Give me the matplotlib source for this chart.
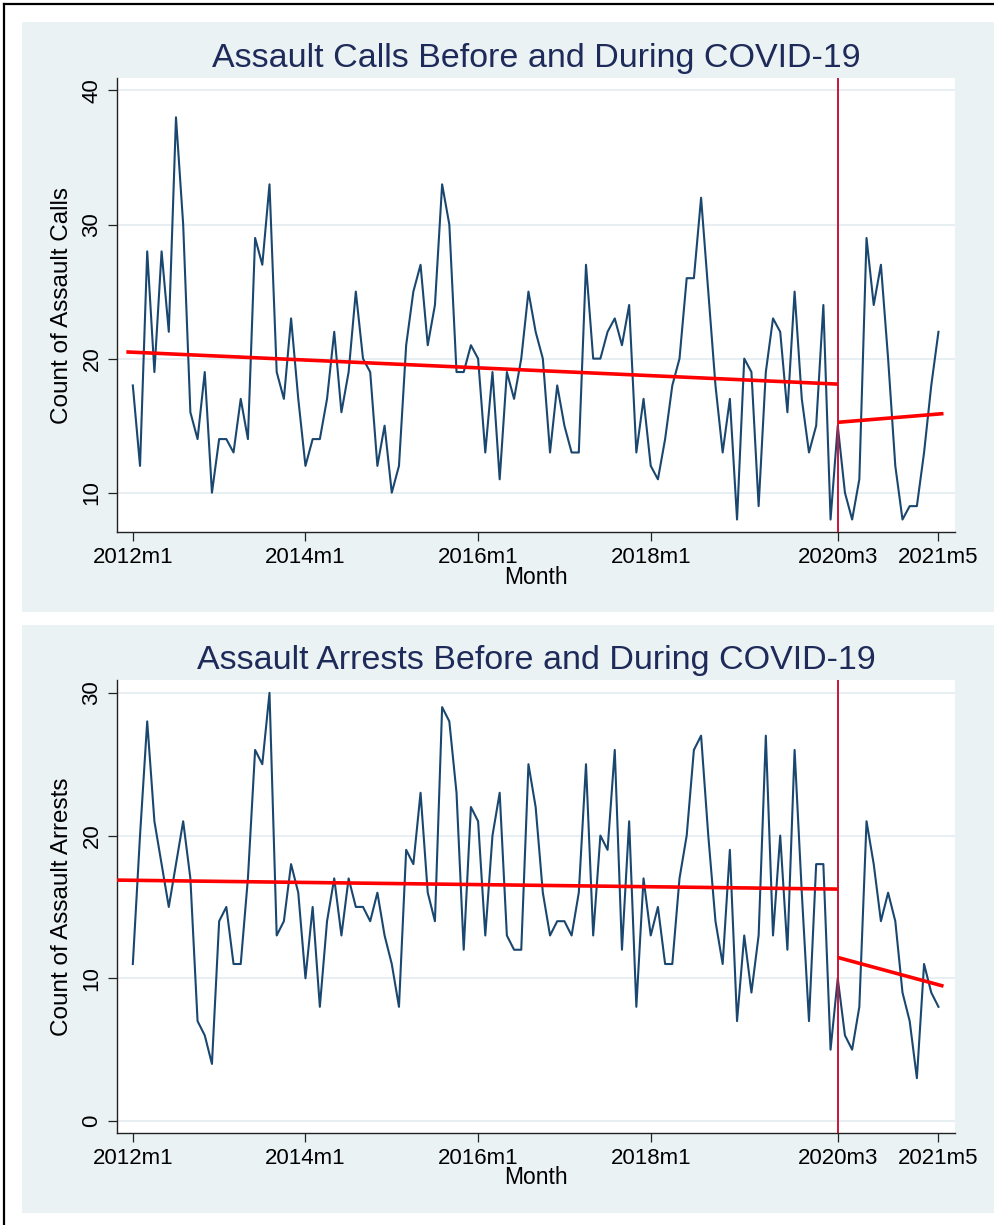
import matplotlib
matplotlib.use("Agg")
import matplotlib.pyplot as plt
from matplotlib.patches import Rectangle
from matplotlib.lines import Line2D

plt.rcParams['font.family'] = ['Liberation Sans', 'DejaVu Sans']

# ---------------- data ----------------
month_index = list(range(113))  # 2012m1 .. 2021m5
tick_positions = [0, 24, 48, 72, 98, 112]
tick_labels = ["2012m1", "2014m1", "2016m1", "2018m1", "2020m3", "2021m5"]
covid_start = 98  # 2020m3

calls = [18, 12, 28, 19, 28, 22, 38, 30, 16, 14, 19, 10, 14, 14, 13, 17, 14, 29, 27, 33, 19, 17, 23, 17, 12,
         14, 14, 17, 22, 16, 19, 25, 20, 19, 12, 15, 10, 12, 21, 25, 27, 21, 24, 33, 30, 19, 19, 21, 20, 13, 19, 11, 19, 17,
         20, 25, 22, 20, 13, 18, 15, 13, 13, 27, 20, 20, 22, 23, 21, 24, 13, 17, 12, 11, 14, 18, 20, 26, 26, 32, 25, 18, 13, 17,
         8, 20, 19, 9, 19, 23, 22, 16, 25, 17, 13, 15, 24, 8, 15, 10, 8, 11, 29, 24, 27, 20, 12, 8, 9, 9, 13, 18, 22]

arrests = [11, 20, 28, 21, 18, 15, 18, 21, 17, 7, 6, 4, 14, 15, 11, 11, 17, 26, 25, 30, 13, 14, 18, 16, 10,
           15, 8, 14, 17, 13, 17, 15, 15, 14, 16, 13, 11, 8, 19, 18, 23, 16, 14, 29, 28, 23, 12, 22, 21, 13, 20, 23, 13, 12, 12,
           25, 22, 16, 13, 14, 14, 13, 16, 25, 13, 20, 19, 26, 12, 21, 8, 17, 13, 15, 11, 11, 17, 20, 26, 27, 20, 14, 11, 19,
           7, 13, 9, 13, 27, 13, 20, 12, 26, 16, 7, 18, 18, 5, 10, 6, 5, 8, 21, 18, 14, 16, 14, 9, 7, 3, 11, 9, 8]

# linear fit lines: (x_start, y_start, x_end, y_end)
calls_pre_fit = (-0.9, 20.5, 98, 18.1)
calls_post_fit = (98, 15.25, 112.7, 15.9)
arrests_pre_fit = (-2.2, 16.88, 98, 16.25)
arrests_post_fit = (98, 11.46, 112.7, 9.45)

calls_yticks = [10, 20, 30, 40]
arrests_yticks = [0, 10, 20, 30]

# ---------------- style ----------------
W, H = 995, 1225
fig = plt.figure(figsize=(W / 100, H / 100), dpi=100)

BG = '#eaf2f3'
NAVY = '#1a476f'
TITLE_C = '#1e2b5a'
VLINE_C = '#c8163c'
FIT_C = '#ff0000'

def fx(px):
    return px / W

def fy(py):
    return 1 - py / H

# outer frame (left and top)
fig.add_artist(Line2D([fx(4), fx(4)], [fy(4), fy(1225)], color='black', lw=1.6))
fig.add_artist(Line2D([fx(4), fx(995)], [fy(4), fy(4)], color='black', lw=1.6))

# panel backgrounds
for top, bot in [(22, 612), (625, 1213)]:
    fig.patches.append(Rectangle((fx(22), fy(bot)), fx(995) - fx(22), fy(top) - fy(bot),
                                 transform=fig.transFigure, facecolor=BG, edgecolor='none', zorder=-10))

def make_panel(plot_top, plot_bot, values, yticks, ylim, pre, post, title, ylabel, title_y, month_y):
    ax = fig.add_axes([fx(117), fy(plot_bot), fx(955) - fx(117), fy(plot_top) - fy(plot_bot)])
    ax.set_zorder(5)
    ax.set_facecolor('white')
    ax.set_xlim(-2.2, 114.3)
    ax.set_ylim(*ylim)
    ax.set_yticks(yticks)
    ax.set_yticklabels([str(t) for t in yticks], rotation=90, va='center')
    ax.set_xticks(tick_positions)
    ax.set_xticklabels(tick_labels)
    ax.grid(axis='y', color='#e6eef1', lw=1.3)
    ax.set_axisbelow(True)
    for s in ['top', 'right']:
        ax.spines[s].set_visible(False)
    for s in ['left', 'bottom']:
        ax.spines[s].set_color('#222222')
        ax.spines[s].set_linewidth(1.0)
    ax.tick_params(axis='both', direction='out', length=6.5, width=0.9, color='#222222',
                   labelsize=16, labelcolor='black', pad=4)
    ax.plot(month_index, values, color=NAVY, lw=1.5, zorder=3)
    ax.axvline(covid_start, color=VLINE_C, lw=1.4, zorder=4)
    ax.plot([pre[0], pre[2]], [pre[1], pre[3]], color=FIT_C, lw=2.6, zorder=5, solid_capstyle='butt')
    ax.plot([post[0], post[2]], [post[1], post[3]], color=FIT_C, lw=2.6, zorder=5, solid_capstyle='butt')
    fig.text(fx(536), fy(title_y), title, ha='center', va='center', fontsize=24.5, color=TITLE_C, zorder=6)
    fig.text(fx(536), fy(month_y), 'Month', ha='center', va='center', fontsize=16.5, color='black', zorder=6)
    fig.text(fx(62), fy((plot_top + plot_bot) / 2), ylabel, rotation=90, ha='center', va='center',
             fontsize=17.5, color='black', zorder=6)
    return ax

make_panel(78, 532, calls, calls_yticks, (7.07, 40.93), calls_pre_fit, calls_post_fit,
           'Assault Calls Before and During COVID-19', 'Count of Assault Calls', 58, 577)
make_panel(680, 1133, arrests, arrests_yticks, (-0.84, 30.9), arrests_pre_fit, arrests_post_fit,
           'Assault Arrests Before and During COVID-19', 'Count of Assault Arrests', 660, 1178)

fig.savefig('out.png', dpi=100)
